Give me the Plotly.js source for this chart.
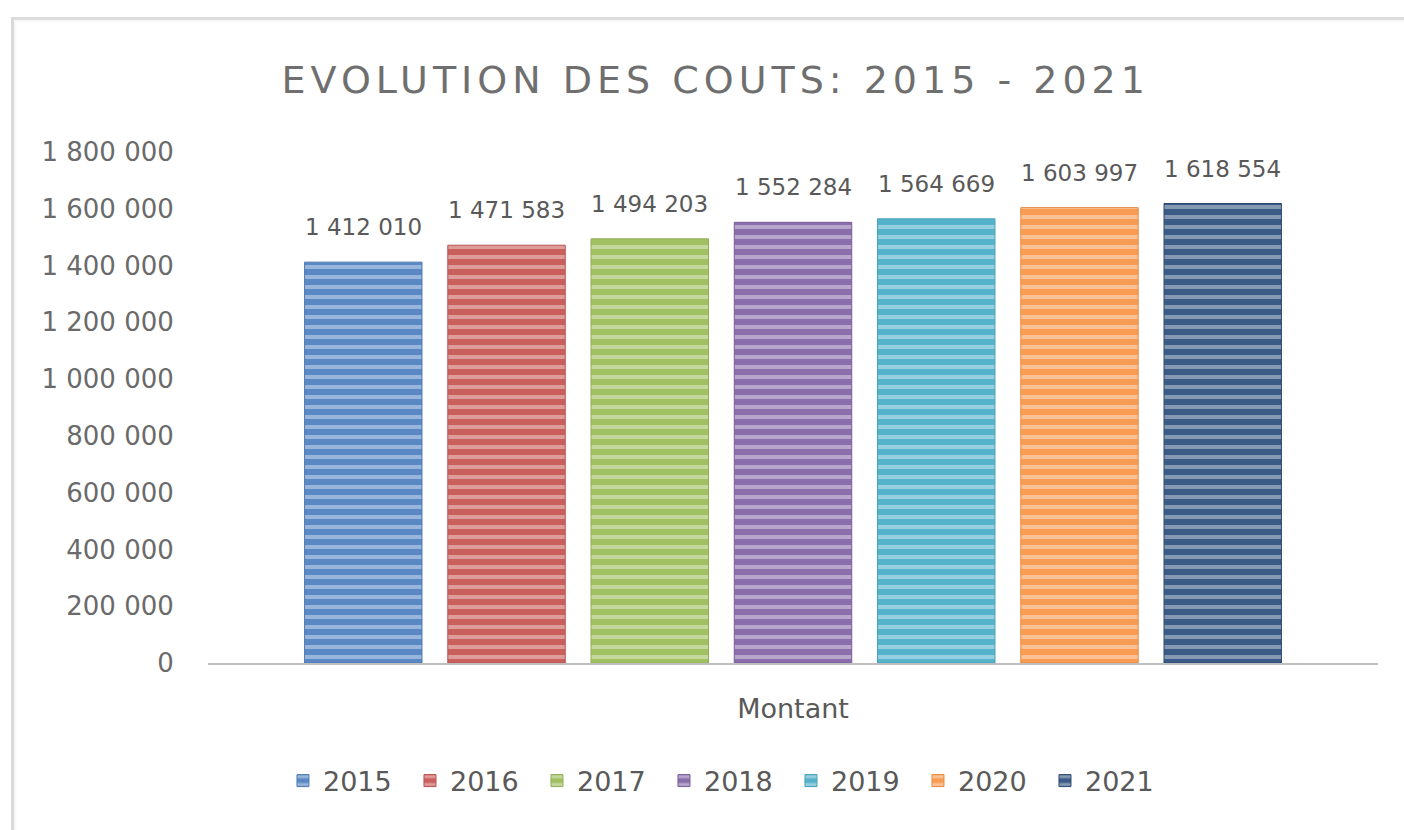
<!DOCTYPE html>
<html>
<head>
<meta charset="utf-8">
<script src="https://cdn.plot.ly/plotly-3.0.1.min.js"></script>
<style>
  html, body { margin:0; padding:0; background:#ffffff; overflow:hidden; }
  #chart { width:1404px; height:830px; position:absolute; left:0; top:0; }
  #frame { position:absolute; left:11px; top:17px; width:1400px; height:820px;
           border-left:3px solid #d9d9d9; border-top:3px solid #dcdcdc; pointer-events:none;
           box-shadow: inset 2px 2px 3px rgba(0,0,0,0.04); }
  .gtitle { letter-spacing: 5px; }
</style>
</head>
<body>
<div id="chart"></div>
<div id="frame"></div>
<script>
const years = ['2015', '2016', '2017', '2018', '2019', '2020', '2021'];
const values = [1412010, 1471583, 1494203, 1552284, 1564669, 1603997, 1618554];
const colors = ['#5a88c4', '#c9605c', '#a0c062', '#8a6eab', '#55b2cb', '#f79c52', '#3a5b85'];
const edgeColors = ['#4f7bb5', '#b85450', '#90ae56', '#785d99', '#46a1ba', '#e58a42', '#2c4a70'];
const category = ['Montant'];
const titleText = 'EVOLUTION DES COUTS: 2015 - 2021';

const bargap = 0.143;
const n = years.length;

function fmt(v) {
  return String(v).replace(/\B(?=(\d{3})+(?!\d))/g, '\u00a0');
}

const traces = years.map((yr, i) => ({
  type: 'bar',
  name: yr,
  x: category,
  y: [values[i]],
  marker: {
    color: colors[i],
    line: { color: edgeColors[i], width: 1 },
    pattern: { shape: '-', fillmode: 'overlay', fgcolor: '#ffffff', fgopacity: 0.38, size: 10, solidity: 0.4 }
  },
  hoverinfo: 'name+y'
}));

const slot = (1 - bargap) / n;
const annotations = years.map((yr, i) => ({
  xref: 'x', yref: 'y',
  x: -(1 - bargap) / 2 + (i + 0.5) * slot,
  y: values[i],
  text: fmt(values[i]),
  showarrow: false,
  yanchor: 'bottom',
  xanchor: 'center',
  yshift: 20,
  font: { family: 'DejaVu Sans', size: 23, color: '#595959' }
}));

const layout = {
  width: 1404, height: 830,
  paper_bgcolor: '#ffffff', plot_bgcolor: '#ffffff',
  margin: { l: 208, r: 26, t: 152, b: 167 },
  separators: ', ',
  title: {
    text: titleText,
    font: { family: 'DejaVu Sans', size: 38, color: '#6f6f6f' },
    xref: 'paper', x: 0.434, xanchor: 'center',
    yref: 'container', y: 1 - 80 / 830, yanchor: 'middle'
  },
  barmode: 'group',
  bargap: bargap,
  bargroupgap: 0.18,
  xaxis: {
    type: 'category',
    automargin: false,
    showline: true, linecolor: '#bfbfbf', linewidth: 2,
    showgrid: false, zeroline: false,
    ticks: 'outside', ticklen: 21, tickcolor: 'rgba(0,0,0,0)',
    tickfont: { family: 'DejaVu Sans', size: 27, color: '#595959' }
  },
  yaxis: {
    automargin: false,
    range: [0, 1800000],
    dtick: 200000, tick0: 0,
    tickformat: ',',
    showline: false, showgrid: false, zeroline: false,
    ticks: 'outside', ticklen: 28, tickcolor: 'rgba(0,0,0,0)',
    tickfont: { family: 'DejaVu Sans', size: 26, color: '#6a6a6a' }
  },
  showlegend: true,
  legend: {
    orientation: 'h',
    xref: 'paper', x: 0.444, xanchor: 'center',
    y: -0.231, yanchor: 'middle',
    font: { family: 'DejaVu Sans', size: 27, color: '#595959' },
    entrywidth: 82, entrywidthmode: 'pixels',
    itemwidth: 30,
    traceorder: 'normal'
  },
  annotations: annotations
};

Plotly.newPlot('chart', traces, layout, { displayModeBar: false, staticPlot: true });
</script>
</body>
</html>
